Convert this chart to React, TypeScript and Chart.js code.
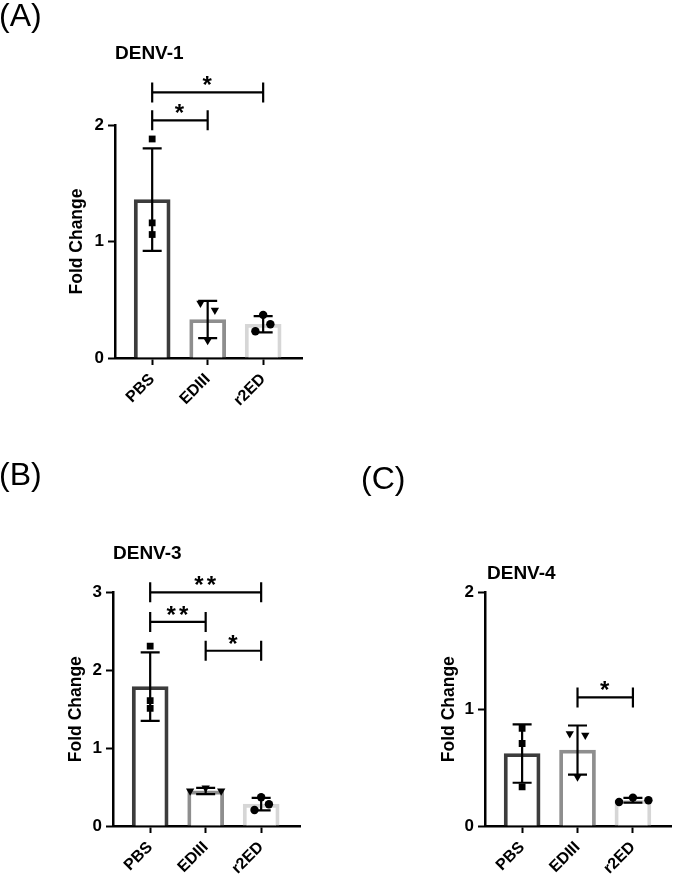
import React, { useEffect, useRef } from 'react';
import { Chart, registerables } from 'chart.js';

Chart.register(...registerables);

// ---------- data ----------
const categories = ['PBS', 'EDIII', 'r2ED'];
const yTickStep = 1;

// DENV-1
const denv1Means = [1.36, 0.33, 0.29];
const denv1SD = [0.44, 0.16, 0.07];
const denv1PBS = [1.88, 1.16, 1.06];
const denv1EDIII = [0.47, 0.41, 0.15];
const denv1R2ED = [0.37, 0.29, 0.23];
const denv1BracketPairs = [[0, 1], [0, 2]];
const denv1BracketLevels = [2.04, 2.28];
const denv1BracketLabels = ['*', '*'];
const denv1YMax = 2;

// DENV-3
const denv3Means = [1.79, 0.45, 0.28];
const denv3SD = [0.44, 0.04, 0.08];
const denv3PBS = [2.31, 1.61, 1.51];
const denv3EDIII = [0.45, 0.45, 0.49];
const denv3R2ED = [0.37, 0.28, 0.205];
const denv3BracketPairs = [[0, 2], [0, 1], [1, 2]];
const denv3BracketLevels = [3.0, 2.62, 2.25];
const denv3BracketLabels = ['**', '**', '*'];
const denv3YMax = 3;

// DENV-4
const denv4Means = [0.62, 0.65, 0.22];
const denv4SD = [0.25, 0.21, 0.02];
const denv4PBS = [0.835, 0.706, 0.334];
const denv4EDIII = [0.79, 0.777, 0.42];
const denv4R2ED = [0.205, 0.243, 0.22];
const denv4BracketPairs = [[1, 2]];
const denv4BracketLevels = [1.1];
const denv4BracketLabels = ['*'];
const denv4YMax = 2;

// ---------- styles ----------
const FONT = '"Liberation Sans", Arial, Helvetica, sans-serif';
const barColors = ['#3c3c3c', '#8e8e8e', '#d6d6d6'];
const markerStyles = ['rect', 'triangle', 'circle'];
const markerRotations = [0, 180, 0];
const markerRadii = [4.8, 4.8, 4.2];

type PanelCfg = {
  left: number; top: number; width: number; height: number;
  yAxisW: number; xAxisH: number; padTop: number; padRight: number; titlePad: number;
  yMax: number;
  means: number[]; sd: number[]; points: number[][]; jitter: number[][];
  pairs: number[][]; levels: number[]; labels: string[];
};

const panels: PanelCfg[] = [
  {
    left: 0, top: 0, width: 342, height: 440,
    yAxisW: 115, xAxisH: 82, padTop: 125, padRight: 40, titlePad: 66.3,
    yMax: denv1YMax, means: denv1Means, sd: denv1SD,
    points: [denv1PBS, denv1EDIII, denv1R2ED],
    jitter: [[0, 0, 0], [-0.13, 0.13, 0], [0, 0.13, -0.14]],
    pairs: denv1BracketPairs, levels: denv1BracketLevels, labels: denv1BracketLabels,
  },
  {
    left: 0, top: 460, width: 342, height: 432,
    yAxisW: 113, xAxisH: 66, padTop: 132.3, padRight: 42, titlePad: 65.3,
    yMax: denv3YMax, means: denv3Means, sd: denv3SD,
    points: [denv3PBS, denv3EDIII, denv3R2ED],
    jitter: [[0, 0, 0], [-0.28, 0.28, 0], [0, 0.14, -0.12]],
    pairs: denv3BracketPairs, levels: denv3BracketLevels, labels: denv3BracketLabels,
  },
  {
    left: 342, top: 460, width: 343, height: 432,
    yAxisW: 143, xAxisH: 66, padTop: 132.3, padRight: 13.3, titlePad: 96.8,
    yMax: denv4YMax, means: denv4Means, sd: denv4SD,
    points: [denv4PBS, denv4EDIII, denv4R2ED],
    jitter: [[0, 0, 0], [-0.14, 0.14, 0], [-0.25, 0, 0.28]],
    pairs: denv4BracketPairs, levels: denv4BracketLevels, labels: denv4BracketLabels,
  },
];

function Panel({ cfg }: { cfg: PanelCfg }) {
  const ref = useRef<HTMLCanvasElement>(null);
  useEffect(() => {
    const scatterData: any[] = [];
    const styles: any[] = [];
    const rots: number[] = [];
    const radii: number[] = [];
    cfg.points.forEach((vals, i) => {
      vals.forEach((v, j) => {
        scatterData.push({ x: i + cfg.jitter[i][j], y: v });
        styles.push(markerStyles[i]);
        rots.push(markerRotations[i]);
        radii.push(markerRadii[i]);
      });
    });

    const overlay = {
      id: 'overlay',
      afterDatasetDraw(chart: any, args: any) {
        if (args.index !== 0) return;
        const xs = chart.scales.x;
        const ys = chart.scales.y;
        const ctx = chart.ctx;
        ctx.save();
        ctx.strokeStyle = '#000';
        ctx.lineWidth = 2.2;
        cfg.means.forEach((m, i) => {
          const px = xs.getPixelForValue(i);
          const t = ys.getPixelForValue(m + cfg.sd[i]);
          const b = ys.getPixelForValue(m - cfg.sd[i]);
          ctx.beginPath();
          ctx.moveTo(px, t); ctx.lineTo(px, b);
          ctx.moveTo(px - 9.5, t); ctx.lineTo(px + 9.5, t);
          ctx.moveTo(px - 9.5, b); ctx.lineTo(px + 9.5, b);
          ctx.stroke();
        });
        ctx.restore();
      },
      afterDraw(chart: any) {
        const xs = chart.scales.x;
        const ys = chart.scales.y;
        const ctx = chart.ctx;
        ctx.save();
        ctx.strokeStyle = '#000';
        ctx.fillStyle = '#000';
        ctx.lineWidth = 2.2;
        cfg.pairs.forEach((p, k) => {
          const x1 = xs.getPixelForValue(p[0]);
          const x2 = xs.getPixelForValue(p[1]);
          const py = ys.getPixelForValue(cfg.levels[k]);
          ctx.beginPath();
          ctx.moveTo(x1, py); ctx.lineTo(x2, py);
          ctx.moveTo(x1, py - 10); ctx.lineTo(x1, py + 10);
          ctx.moveTo(x2, py - 10); ctx.lineTo(x2, py + 10);
          ctx.stroke();
          ctx.font = `bold 24px ${FONT}`;
          ctx.textAlign = 'center';
          ctx.textBaseline = 'alphabetic';
          (ctx as any).letterSpacing = '3px';
          ctx.fillText(cfg.labels[k], (x1 + x2) / 2 + 1, py + 1);
        });
        ctx.restore();
      },
    };

    const chart = new Chart(ref.current as HTMLCanvasElement, {
      type: 'bar',
      data: {
        datasets: [
          {
            type: 'bar',
            data: cfg.means.map((m, i) => ({ x: i, y: m })),
            backgroundColor: '#ffffff',
            borderColor: barColors,
            borderWidth: 3.8,
            barThickness: 36,
            order: 1,
          } as any,
          {
            type: 'scatter',
            data: scatterData,
            pointStyle: styles,
            pointRotation: rots,
            pointRadius: radii,
            backgroundColor: '#000',
            borderColor: '#000',
            pointBorderWidth: 0,
            order: 0,
          } as any,
        ],
      },
      plugins: [overlay],
      options: {
        responsive: false,
        animation: false,
        layout: { padding: { left: 0, right: cfg.padRight, top: cfg.padTop, bottom: 0 } },
        plugins: { legend: { display: false }, tooltip: { enabled: false }, title: { display: false } },
        scales: {
          x: {
            type: 'linear',
            min: -0.67,
            max: 2.7,
            offset: false,
            afterBuildTicks: (s: any) => { s.ticks = categories.map((_, i) => ({ value: i })); },
            afterFit: (s: any) => { s.height = cfg.xAxisH; },
            ticks: {
              callback: (v: any) => categories[v as number] ?? '',
              minRotation: 45, maxRotation: 45, autoSkip: false,
              color: '#000', font: { family: FONT, size: 16, weight: 'bold' }, padding: 5,
            },
            grid: { display: true, drawOnChartArea: false, drawTicks: true, offset: false, tickLength: 7, tickWidth: 2, tickColor: '#000' },
            border: { display: true, color: '#000', width: 2.5 },
          } as any,
          y: {
            type: 'linear',
            min: 0,
            max: cfg.yMax,
            afterFit: (s: any) => { s.width = cfg.yAxisW; },
            ticks: { stepSize: yTickStep, color: '#000', font: { family: FONT, size: 17, weight: 'bold' }, padding: 4 },
            grid: { display: true, drawOnChartArea: false, drawTicks: true, tickLength: 7, tickWidth: 2, tickColor: '#000' },
            border: { display: true, color: '#000', width: 2.5 },
            title: {
              display: true, text: 'Fold Change', color: '#000',
              font: { family: FONT, size: 17.5, weight: 'bold', lineHeight: 1.2 },
              padding: { top: cfg.titlePad, bottom: 0 },
            },
          } as any,
        },
      },
    });
    return () => chart.destroy();
  }, [cfg]);

  return (
    <div style={{ position: 'absolute', left: cfg.left, top: cfg.top, width: cfg.width, height: cfg.height }}>
      <canvas ref={ref} width={cfg.width} height={cfg.height} style={{ display: 'block', width: cfg.width, height: cfg.height }} />
    </div>
  );
}

const textStyle = (left: number, top: number, size: number, bold: boolean): React.CSSProperties => ({
  position: 'absolute', left, top, fontSize: size, lineHeight: 1, fontFamily: FONT,
  fontWeight: bold ? 'bold' : 'normal', color: '#000', whiteSpace: 'nowrap',
});

export default function App() {
  return (
    <div style={{ position: 'absolute', left: 0, top: 0, width: 685, height: 892, background: '#fff', overflow: 'hidden' }}>
      {panels.map((p, i) => <Panel key={i} cfg={p} />)}
      <div style={textStyle(-1, -1, 32, false)}>(A)</div>
      <div style={textStyle(-1, 458, 32, false)}>(B)</div>
      <div style={textStyle(361, 462, 32, false)}>(C)</div>
      <div style={textStyle(115, 42.5, 19, true)}>DENV-1</div>
      <div style={textStyle(113, 542.5, 19, true)}>DENV-3</div>
      <div style={textStyle(487, 562.5, 19, true)}>DENV-4</div>
    </div>
  );
}
